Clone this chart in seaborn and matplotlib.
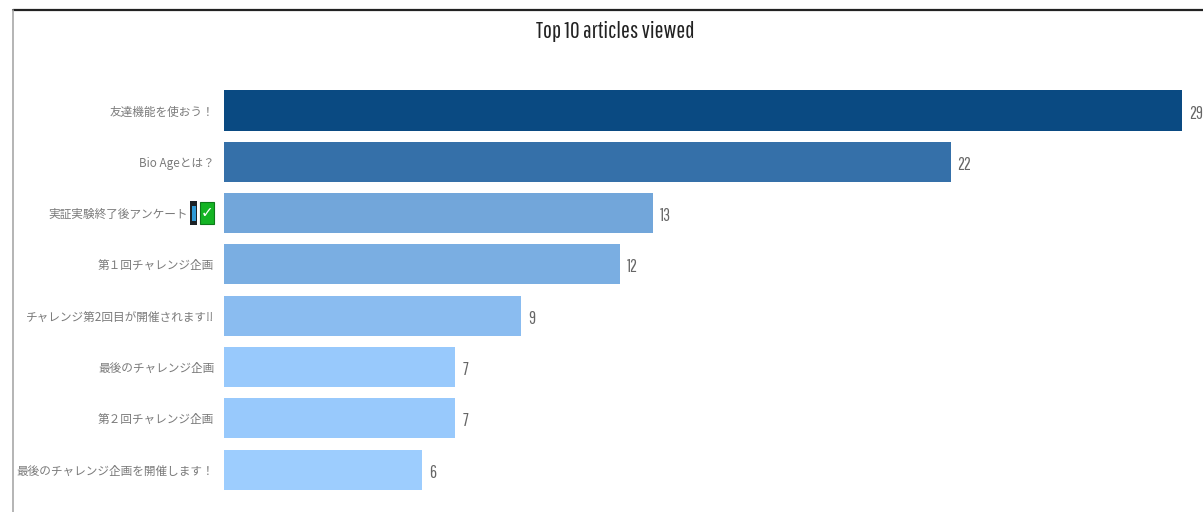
import logging
import matplotlib
matplotlib.use("Agg")
import matplotlib.pyplot as plt
from matplotlib.lines import Line2D
from matplotlib.patches import Rectangle
from matplotlib.transforms import ScaledTranslation
import pandas as pd
import seaborn as sns

logging.getLogger("matplotlib.font_manager").setLevel(logging.ERROR)

titles = [
    "友達機能を使おう！",
    "Bio Ageとは？",
    "実証実験終了後アンケート",
    "第１回チャレンジ企画",
    "チャレンジ第2回目が開催されます‼",
    "最後のチャレンジ企画",
    "第２回チャレンジ企画",
    "最後のチャレンジ企画を開催します！",
]
views = [29, 22, 13, 12, 9, 7, 7, 6]
bar_colors = ["#0a4a82", "#3570a9", "#72a6da", "#7aaee2", "#8abcf0",
              "#98c9fc", "#98c9fc", "#9dcdfe"]

W, H = 1203, 512
sns.set_theme(style="white")
condensed = ["Pathway Gothic One", "Barlow Condensed", "Liberation Sans Narrow",
             "Noto Sans CJK JP", "DejaVu Sans"]
plt.rcParams["font.family"] = ["Noto Sans CJK JP", "DejaVu Sans"]

fig = plt.figure(figsize=(W / 100, H / 100), dpi=100, facecolor="white")
left, right, top, bottom = 224, 1203, 84.85, 495.25
ax = fig.add_axes([left / W, 1 - bottom / H, (right - left) / W, (bottom - top) / H])

df = pd.DataFrame({"title": titles, "views": views})
sns.barplot(data=df, y="title", x="views", hue="title", palette=bar_colors,
            legend=False, width=0.78, saturation=1, linewidth=0, ax=ax)

ax.set_xlim(0, (right - left) / 33.03)
ax.set_ylim(7.5, -0.5)
ax.set_xlabel("")
ax.set_ylabel("")
ax.set_xticks([])
ax.tick_params(axis="y", length=0, pad=7, labelsize=8.4, labelcolor="#7a7a7a")
sns.despine(ax=ax, left=True, bottom=True)

for container in ax.containers:
    for txt in ax.bar_label(container, fmt="%d", padding=5, fontsize=12.5, color="#666666",
                            family=condensed):
        txt.xyann = (txt.xyann[0], -2.2)


def px_rect(x0, y0, x1, y1, **style):
    """Add a rectangle given in pixels from the top-left corner of the figure."""
    fig.add_artist(Rectangle((x0 / W, 1 - y1 / H), (x1 - x0) / W, (y1 - y0) / H,
                             transform=fig.transFigure, **style))


# The survey row carries a phone and a check-mark icon after its text,
# so its label sits further left.
survey = ax.get_yticklabels()[2]
survey.set_transform(survey.get_transform() + ScaledTranslation(-26 / 100, 0, fig.dpi_scale_trans))
px_rect(190, 201, 197, 225, facecolor="#1c2226", edgecolor="none")
px_rect(191.5, 206, 195.5, 221, facecolor="#2f9ad6", edgecolor="none")
px_rect(200, 202, 213.5, 224, facecolor="#14b424", edgecolor="#0d7a1a", linewidth=0.8)
fig.text(206.8 / W, 1 - 213 / H, "✓", fontsize=11, color="white", ha="center", va="center",
         family="DejaVu Sans")

fig.text(615.5 / W, 1 - 31 / H, "Top 10 articles viewed", fontsize=17, color="#222222",
         ha="center", va="center", family=condensed)

# Frame: dark rule along the top, lighter rule down the left side.
fig.add_artist(Line2D([12.5 / W, 1], [1 - 9.5 / H, 1 - 9.5 / H], color="#222222", lw=1.6))
fig.add_artist(Line2D([12.5 / W, 12.5 / W], [1 - 9.5 / H, 0], color="#a8a8a8", lw=1.2))

fig.savefig("out.png", dpi=100)
